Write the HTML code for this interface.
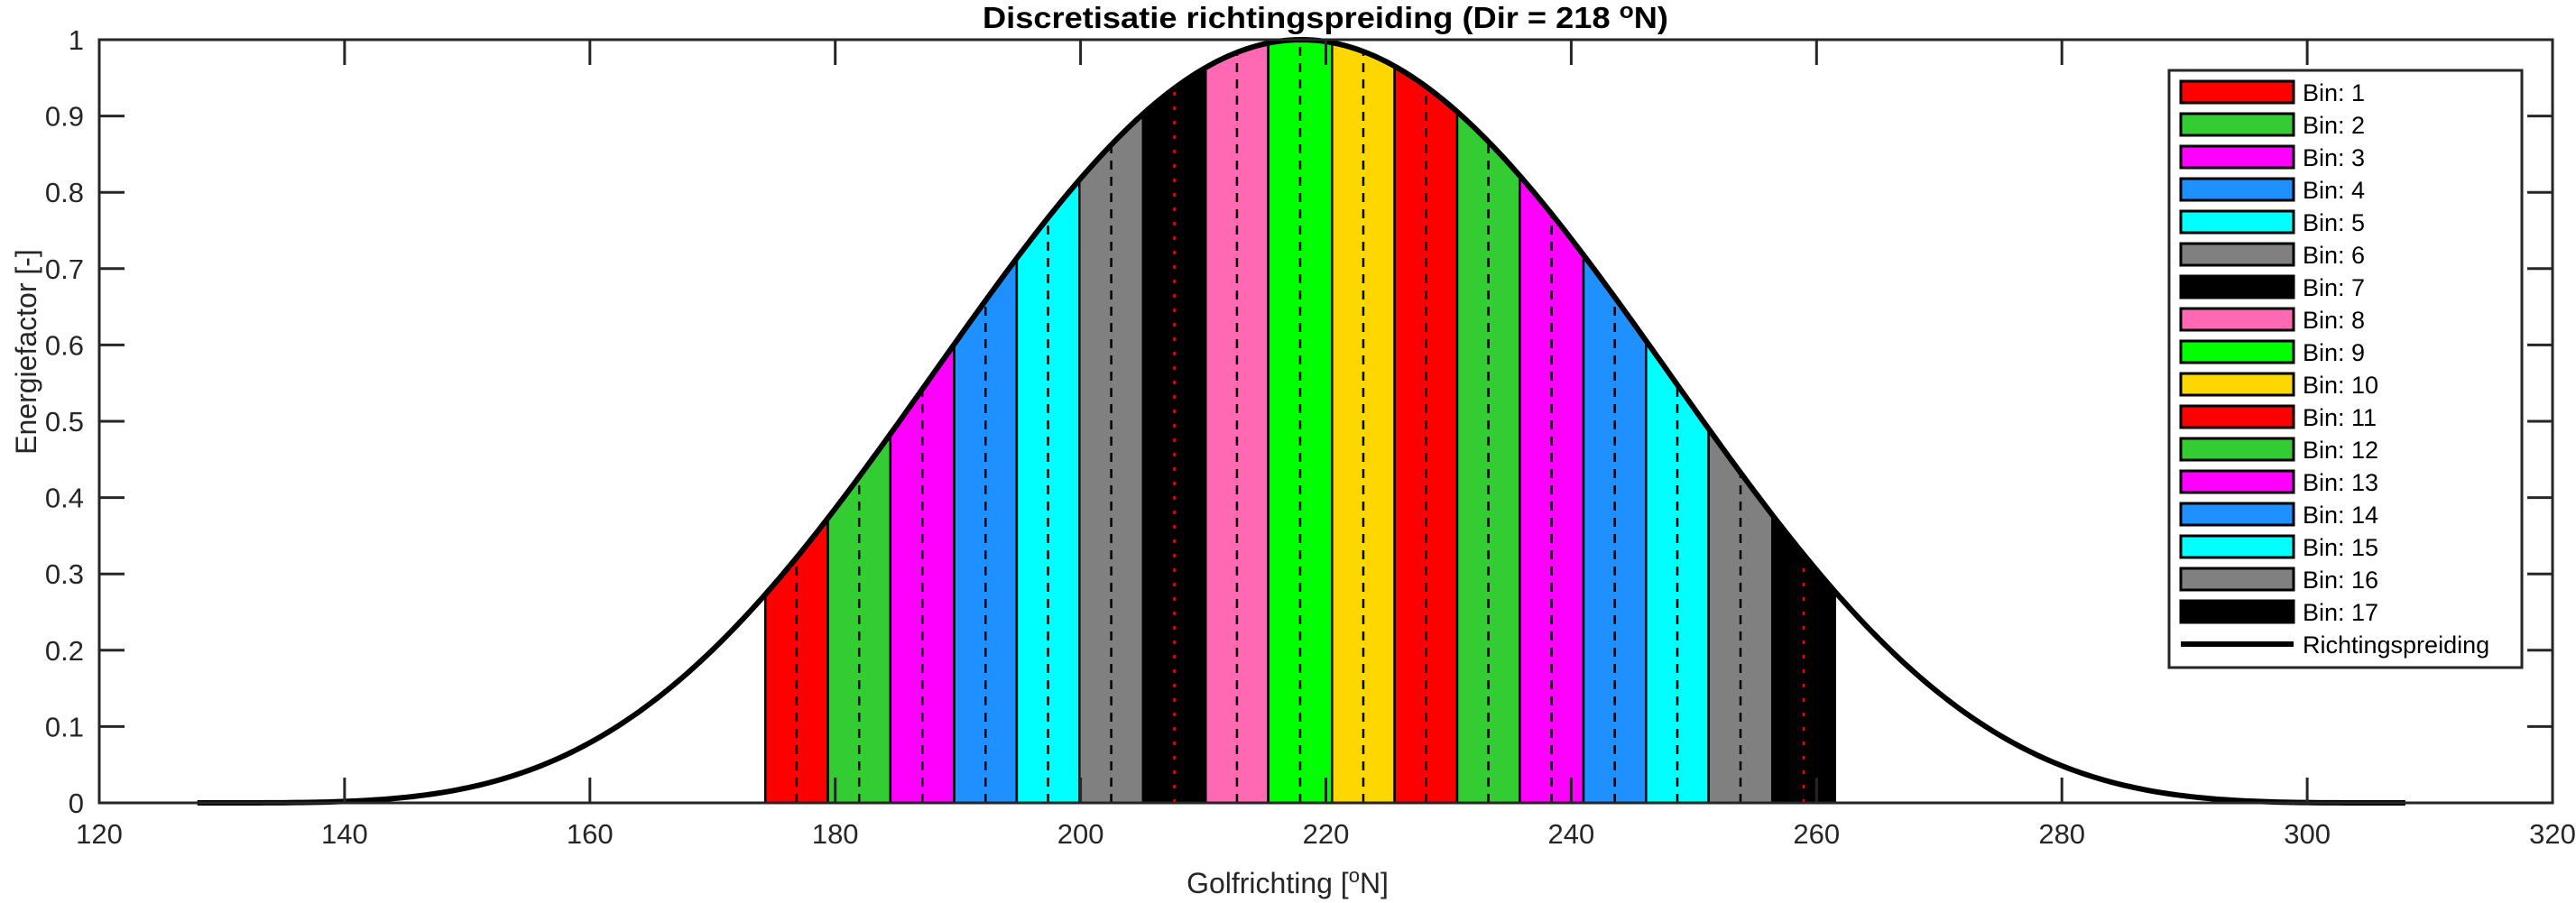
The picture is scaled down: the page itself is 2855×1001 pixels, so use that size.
<!DOCTYPE html>
<html><head><meta charset="utf-8"><style>
body{margin:0;background:#fff}
svg{display:block;font-family:"Liberation Sans",Arial,sans-serif}
</style></head><body>
<svg id="chart" width="2855" height="1001" viewBox="0 0 2855 1001" xmlns="http://www.w3.org/2000/svg">
<rect x="0" y="0" width="2855" height="1001" fill="#fff"/>
<g id="bins"></g>
<g id="centers"></g>
<path id="curve" fill="none" stroke="#000" stroke-width="6"/>
<g id="axes"></g>
<text x="1469" y="31" text-anchor="middle" font-size="33" font-weight="bold" textLength="760" lengthAdjust="spacingAndGlyphs">Discretisatie richtingspreiding (Dir = 218 <tspan dy="-11" font-size="24">o</tspan><tspan dy="11">N)</tspan></text>
<text x="1427" y="990" text-anchor="middle" font-size="32" fill="#262626">Golfrichting [<tspan dy="-12" font-size="22">o</tspan><tspan dy="12">N]</tspan></text>
<text transform="translate(40,390) rotate(-90)" text-anchor="middle" font-size="32" fill="#262626">Energiefactor [-]</text>
<g id="legend"></g>
</svg>
<script>
const binEdges = [174.3,179.4,184.5,189.7,194.8,199.9,205.1,210.2,215.3,220.5,225.6,230.7,235.8,241.0,246.1,251.2,256.4,261.5];
const binColors = ["#ff0000","#33cc33","#ff00ff","#1e90ff","#00ffff","#808080","#000000","#ff69b4","#00ff00","#ffd700","#ff0000","#33cc33","#ff00ff","#1e90ff","#00ffff","#808080","#000000"];
const binLabels = ["Bin: 1","Bin: 2","Bin: 3","Bin: 4","Bin: 5","Bin: 6","Bin: 7","Bin: 8","Bin: 9","Bin: 10","Bin: 11","Bin: 12","Bin: 13","Bin: 14","Bin: 15","Bin: 16","Bin: 17"];
const xTicks = [120,140,160,180,200,220,240,260,280,300,320];
const yTicks = [0,0.1,0.2,0.3,0.4,0.5,0.6,0.7,0.8,0.9,1];
const meanDir = 218;
const spreadPower = 4;
const curveStart = 128, curveEnd = 308;

const NS="http://www.w3.org/2000/svg";
const X0=110,X1=2829,Y0=890,Y1=44;
const xs=v=>X0+(v-120)/(320-120)*(X1-X0);
const ys=v=>Y0-(v-0)/(1-0)*(Y0-Y1);
const f=d=>{const a=(d-meanDir)*Math.PI/180;return Math.abs(a)>=Math.PI/2?0:Math.pow(Math.cos(a),spreadPower);};
function mk(tag,attrs,parent){const e=document.createElementNS(NS,tag);for(const k in attrs)e.setAttribute(k,attrs[k]);parent.appendChild(e);return e;}

const gb=document.getElementById('bins');
const gc=document.getElementById('centers');
for(let i=0;i<binColors.length;i++){
  const a=binEdges[i],b=binEdges[i+1];
  let d=`M${xs(a)},${ys(0)}`;
  for(let k=0;k<=20;k++){const v=a+(b-a)*k/20;d+=` L${xs(v)},${ys(f(v))}`;}
  d+=` L${xs(b)},${ys(0)} Z`;
  const p=mk('path',{d:d,fill:binColors[i],stroke:'#000','stroke-width':2.5},gb);
  
  
  const c=(a+b)/2;
  const ln=mk('line',{x1:xs(c),x2:xs(c),y1:ys(0),y2:ys(f(c)),stroke:binColors[i]==='#000000'?'#ff0000':'#000','stroke-width':2.5,'stroke-dasharray':binColors[i]==='#000000'?'4 12':'10 8'},gc);
  
  
}
let cd='';
for(let k=0;k<=360;k++){const v=curveStart+(curveEnd-curveStart)*k/360;cd+=(k?' L':'M')+xs(v)+','+ys(f(v));}
document.getElementById('curve').setAttribute('d',cd);

const ga=document.getElementById('axes');
const box=mk('rect',{x:X0,y:Y1,width:X1-X0,height:Y0-Y1,fill:'none',stroke:'#262626','stroke-width':3},ga);


xTicks.forEach(t=>{
  const x=xs(t);
  const l1=mk('line',{x1:x,x2:x,y1:Y0,y2:Y0-28,stroke:'#262626','stroke-width':3},ga);
  
  
  const l2=mk('line',{x1:x,x2:x,y1:Y1,y2:Y1+28,stroke:'#262626','stroke-width':3},ga);
  
  
  const tx=mk('text',{x:x,y:935,'text-anchor':'middle','font-size':31,fill:'#262626'},ga);
  tx.textContent=t;
  
  
});
yTicks.forEach(t=>{
  const y=ys(t);
  const l1=mk('line',{x1:X0,x2:X0+28,y1:y,y2:y,stroke:'#262626','stroke-width':3},ga);
  
  
  const l2=mk('line',{x1:X1,x2:X1-28,y1:y,y2:y,stroke:'#262626','stroke-width':3},ga);
  
  
  const tx=mk('text',{x:93,y:y+11,'text-anchor':'end','font-size':31,fill:'#262626'},ga);
  tx.textContent=String(t);
  
  
});

const gl=document.getElementById('legend');
const lb=mk('rect',{x:2404,y:78,width:391,height:662,fill:'#fff',stroke:'#262626','stroke-width':3},gl);


binLabels.forEach((lab,i)=>{
  const cy=102+i*36;
  const r=mk('rect',{x:2417,y:cy-12,width:125,height:24,fill:binColors[i],stroke:'#000','stroke-width':3},gl);
  
  
  const t=mk('text',{x:2552,y:cy+10,'font-size':27,fill:'#000'},gl);
  t.textContent=lab;
  
  
});
const cyL=102+17*36;
const ll=mk('line',{x1:2417,x2:2542,y1:cyL,y2:cyL,stroke:'#000','stroke-width':6},gl);


const lt=mk('text',{x:2552,y:cyL+10,'font-size':27,fill:'#000'},gl);
lt.textContent='Richtingspreiding';


</script>
</body></html>
